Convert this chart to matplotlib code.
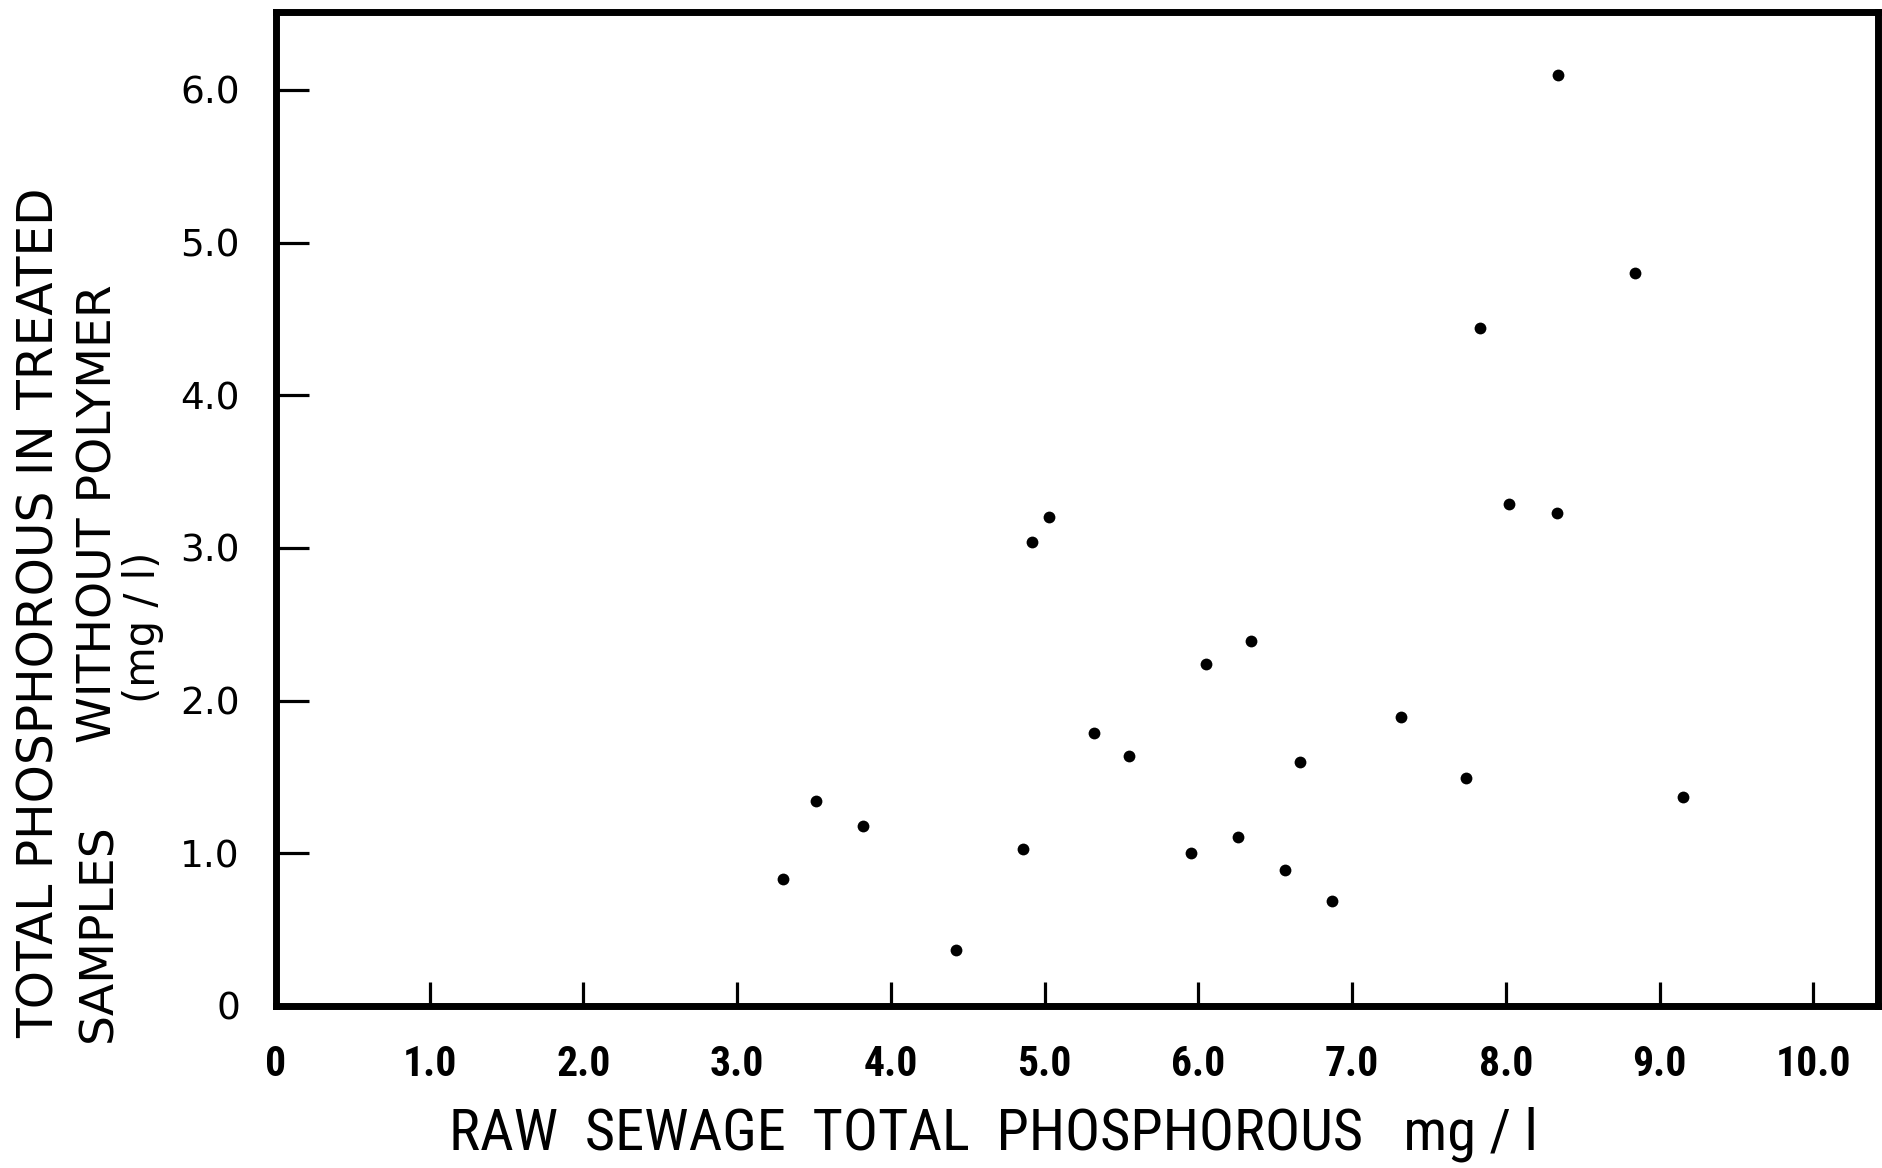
import matplotlib
matplotlib.use("Agg")
import matplotlib.pyplot as plt
from matplotlib import font_manager as fm
from matplotlib.ticker import FixedLocator, FixedFormatter

# ---- data ----
raw_tp = [3.30, 3.51, 3.82, 4.42, 4.86, 4.92, 5.03, 5.32, 5.55, 5.95, 6.05, 6.26,
          6.34, 6.56, 6.66, 6.87, 7.32, 7.74, 7.83, 8.02, 8.33, 8.34, 8.84, 9.15]
treated_tp = [0.83, 1.34, 1.18, 0.37, 1.03, 3.04, 3.20, 1.79, 1.64, 1.00, 2.24, 1.11,
              2.39, 0.89, 1.60, 0.69, 1.89, 1.49, 4.44, 3.29, 3.23, 6.10, 4.80, 1.37]

x_ticks = [0, 1, 2, 3, 4, 5, 6, 7, 8, 9, 10]
x_tick_labels = ["0", "1.0", "2.0", "3.0", "4.0", "5.0", "6.0", "7.0", "8.0", "9.0", "10.0"]
y_ticks = [0, 1, 2, 3, 4, 5, 6]
y_tick_labels = ["0", "1.0", "2.0", "3.0", "4.0", "5.0", "6.0"]

x_label = "RAW  SEWAGE  TOTAL  PHOSPHOROUS   mg / l"
y_label_1 = "TOTAL PHOSPHOROUS IN TREATED"
y_label_2a = "SAMPLES"
y_label_2b = "WITHOUT POLYMER"
y_label_3 = "(mg / l)"

# pick a narrow font if one is installed
_ttf = fm.fontManager.ttflist
_names = {f.name for f in _ttf}
narrow_family = None
narrow_stretch = "normal"
for cand in ["Liberation Sans Narrow", "Roboto Condensed", "Open Sans Condensed",
             "Noto Sans Condensed", "DejaVu Sans Condensed"]:
    if cand in _names:
        narrow_family = cand
        break
if narrow_family is None:
    for f in _ttf:
        if f.name in ("DejaVu Sans", "Roboto", "Noto Sans", "Open Sans") and \
                str(f.stretch) in ("condensed", "semi-condensed"):
            narrow_family = f.name
            narrow_stretch = str(f.stretch)
            break
if narrow_family is None:
    narrow_family = "DejaVu Sans"
    narrow_found = False
else:
    narrow_found = True

W, H = 1882, 1168
fig = plt.figure(figsize=(W / 100, H / 100), dpi=100)
ax = fig.add_axes([276 / W, 1 - 1006 / H, (1878 - 276) / W, (1006 - 12) / H])

ax.plot(raw_tp, treated_tp, linestyle="none", marker="o", markersize=8.5,
        color="black", markeredgewidth=0)

ax.set_xlim(0, 10.42)
ax.set_ylim(0, 6.51)

for s in ax.spines.values():
    s.set_linewidth(5)
    s.set_color("black")

ax.xaxis.set_major_locator(FixedLocator(x_ticks))
ax.xaxis.set_major_formatter(FixedFormatter(x_tick_labels))
ax.yaxis.set_major_locator(FixedLocator(y_ticks))
ax.yaxis.set_major_formatter(FixedFormatter(y_tick_labels))

ax.tick_params(axis="x", direction="in", length=17, width=2.3, pad=27, color="black")
ax.tick_params(axis="y", direction="in", length=24, width=2.3, pad=26, color="black")

xt_size = 30 if narrow_found else 24
for lab in ax.get_xticklabels():
    lab.set_fontfamily([narrow_family, "DejaVu Sans"])
    lab.set_fontstretch(narrow_stretch)
    lab.set_fontweight("semibold")
    lab.set_fontsize(xt_size)
for lab in ax.get_yticklabels():
    lab.set_fontfamily(["DejaVu Sans"])
    lab.set_fontsize(27)

# axis titles
xl_size = 42 if narrow_found else 31
fig.text(993 / W, 1 - 1150 / H, x_label, ha="center", va="baseline",
         fontsize=xl_size, family=[narrow_family, "DejaVu Sans"],
         fontstretch=narrow_stretch)

fig.text(40 / W, 1 - 613 / H, y_label_1, rotation=90, ha="center", va="center",
         fontsize=35, family=["DejaVu Sans"])
fig.text(99 / W, 1 - 933 / H, y_label_2a, rotation=90, ha="center", va="center",
         fontsize=34, family=["DejaVu Sans"])
fig.text(99 / W, 1 - 514 / H, y_label_2b, rotation=90, ha="center", va="center",
         fontsize=34, family=["DejaVu Sans"])
fig.text(143 / W, 1 - 627 / H, y_label_3, rotation=90, ha="center", va="center",
         fontsize=30, family=["DejaVu Sans"])

fig.savefig("out.png", dpi=100, facecolor="white")
